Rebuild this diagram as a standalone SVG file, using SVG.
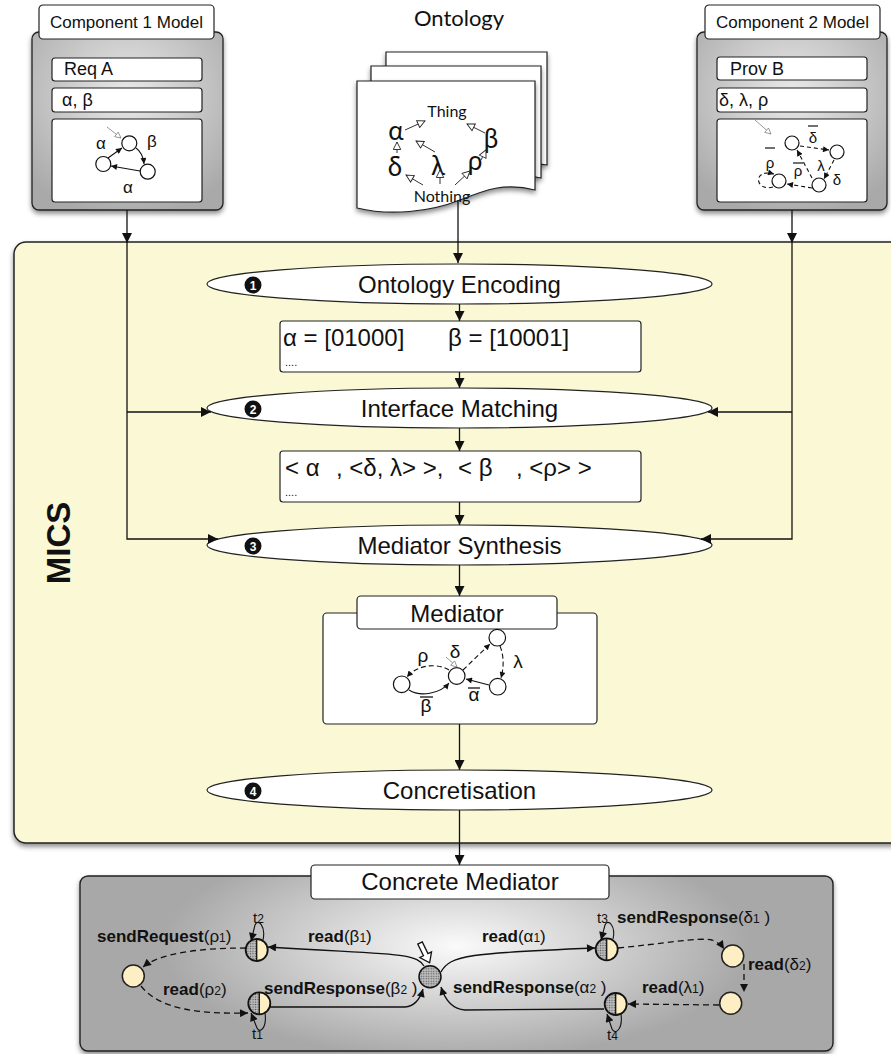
<svg xmlns="http://www.w3.org/2000/svg" width="891" height="1054" viewBox="0 0 891 1054">
<style>
text{font-family:"Liberation Sans",Arial,sans-serif;fill:#111}
.ln{fill:none;stroke:#111;stroke-width:1.3}
.thin{fill:none;stroke:#111;stroke-width:1.1}
.box{fill:#fff;stroke:#222;stroke-width:1.2}
.big{font-size:24px}
.ttl{font-size:17px}
.ont{font-family:Lato,"Open Sans",sans-serif}
.lab{font-size:17px}
.b{font-weight:bold}
.sub{font-size:12px}
.dash{stroke-dasharray:6 4}
.yel{fill:#fdefc3;stroke:#222;stroke-width:1.5}
.hl{fill:none;stroke:#333;stroke-width:1}
.init{fill:none;stroke:#999;stroke-width:1}
.nd{fill:#fff;stroke:#111;stroke-width:1.2}
.badge{fill:#111}
.bn{font-size:12px;font-weight:bold;fill:#fff;text-anchor:middle}
.mid{text-anchor:middle}
</style>
<defs>
<filter id="sh" x="-10%" y="-10%" width="120%" height="130%">
<feDropShadow dx="0" dy="3" stdDeviation="2.5" flood-color="#000" flood-opacity="0.45"/>
</filter>
<radialGradient id="gcomp" cx="50%" cy="35%" r="70%">
<stop offset="0" stop-color="#e9e9e9"/>
<stop offset="1" stop-color="#a9a9a9"/>
</radialGradient>
<radialGradient id="gconc" cx="50%" cy="40%" r="65%" gradientTransform="translate(0.5 0.4) scale(0.6 1) translate(-0.5 -0.4)">
<stop offset="0" stop-color="#fafafa"/>
<stop offset="1" stop-color="#a8a8a8"/>
</radialGradient>
<pattern id="stip" width="2.5" height="2.5" patternUnits="userSpaceOnUse">
<rect width="2.5" height="2.5" fill="#bdbdbd"/>
<circle cx="1.25" cy="1.25" r="0.7" fill="#555"/>
</pattern>
<marker id="ah" viewBox="0 0 10 10" refX="10" refY="5" markerWidth="12" markerHeight="10" markerUnits="userSpaceOnUse" orient="auto">
<path d="M0,0 L10,5 L0,10 z" fill="#111"/>
</marker>
<marker id="as" viewBox="0 0 10 10" refX="10" refY="5" markerWidth="10" markerHeight="8" markerUnits="userSpaceOnUse" orient="auto">
<path d="M0,0 L10,5 L0,10 z" fill="#111"/>
</marker>
<marker id="at" viewBox="0 0 10 10" refX="10" refY="5" markerWidth="7" markerHeight="6" markerUnits="userSpaceOnUse" orient="auto">
<path d="M0,0 L10,5 L0,10 z" fill="#111"/>
</marker>
<marker id="ho" viewBox="0 0 12 12" refX="11" refY="6" markerWidth="10" markerHeight="9" markerUnits="userSpaceOnUse" orient="auto">
<path d="M1,1 L11,6 L1,11 z" fill="#fff" stroke="#222" stroke-width="1.2"/>
</marker>
<marker id="hg" viewBox="0 0 12 12" refX="11" refY="6" markerWidth="8" markerHeight="7" markerUnits="userSpaceOnUse" orient="auto">
<path d="M1,1 L11,6 L1,11 z" fill="#fff" stroke="#777" stroke-width="1.2"/>
</marker>
<g id="half">
<path d="M0,-11 A11,11 0 0 0 0,11 Z" fill="url(#stip)"/>
<path d="M0,-11 A11,11 0 0 1 0,11 Z" fill="#fdefc3"/>
<line x1="0" y1="-11" x2="0" y2="11" stroke="#111" stroke-width="1.3"/>
<circle r="11" fill="none" stroke="#111" stroke-width="1.8"/>
</g>
</defs>

<!-- MICS container -->
<g id="mics">
<rect x="14" y="242" width="900" height="601" rx="12" fill="#faf8d5" stroke="#222" stroke-width="1.5" filter="url(#sh)"/>
<text transform="translate(70,543) rotate(-90)" class="b mid" font-size="33">MICS</text>
</g>

<!-- Component 1 -->
<g id="comp1">
<rect x="32" y="32" width="191" height="178" rx="7" fill="url(#gcomp)" stroke="#222" stroke-width="1.3" filter="url(#sh)"/>
<rect x="39" y="5" width="175" height="34" rx="4" class="box"/>
<text x="126.5" y="28" class="ttl mid">Component 1 Model</text>
<rect x="52" y="58" width="150" height="23" rx="3" class="box"/>
<text x="64" y="75" font-size="18">Req A</text>
<rect x="52" y="88" width="150" height="24" rx="3" class="box"/>
<text x="62" y="106" font-size="18">α, β</text>
<rect x="52" y="119" width="150" height="83" rx="3" class="box"/>
<circle cx="129.3" cy="143.3" r="7.5" class="nd"/>
<circle cx="103.3" cy="164" r="7.5" class="nd"/>
<circle cx="147.7" cy="171.7" r="7.5" class="nd"/>
<path d="M107,127 L121,138" class="init" marker-end="url(#hg)"/>
<path d="M108,158 L122,148" class="thin" marker-end="url(#at)"/>
<path d="M136,148 Q143,153 144,164" class="thin" marker-end="url(#at)"/>
<path d="M140,171 L111,166" class="thin" marker-end="url(#at)"/>
<text x="101" y="149" font-size="17" class="mid">α</text>
<text x="152" y="147" font-size="17" class="mid">β</text>
<text x="128" y="193" font-size="17" class="mid">α</text>
</g>

<!-- Ontology -->
<g id="ontology">
<text x="459" y="26" class="ont mid" font-size="22">Ontology</text>
<path d="M386,52 H547 V165 C520,160 500,168 480,175 C450,185 420,188 386,182 Z" fill="#fff" stroke="#222" stroke-width="1.2" filter="url(#sh)"/>
<path d="M371,66 H541 V178 C515,172 495,180 472,188 C442,198 405,202 371,196 Z" fill="#fff" stroke="#222" stroke-width="1.2" filter="url(#sh)"/>
<path d="M357,81 H535 V190 C505,182 485,190 460,200 C430,212 390,216 357,208 Z" fill="#fff" stroke="#222" stroke-width="1.2" filter="url(#sh)"/>
<text x="447" y="117" class="ont mid" font-size="16">Thing</text>
<text x="442" y="202" class="ont mid" font-size="16">Nothing</text>
<text x="396" y="140" class="ont mid" font-size="26">α</text>
<text x="395" y="176" class="ont mid" font-size="26">δ</text>
<text x="438" y="175" class="ont mid" font-size="26">λ</text>
<text x="491" y="148" class="ont mid" font-size="26">β</text>
<text x="475" y="170" class="ont mid" font-size="26">ρ</text>
<path d="M405,130 L425,121" class="hl" marker-end="url(#ho)"/>
<path d="M485,133 L467,124" class="hl" marker-end="url(#ho)"/>
<path d="M397,153 L397,142" class="hl" marker-end="url(#ho)"/>
<path d="M435,152 L416,141" class="hl" marker-end="url(#ho)"/>
<path d="M423,185 L406,175" class="hl" marker-end="url(#ho)"/>
<path d="M440,184 L440,170" class="hl" marker-end="url(#ho)"/>
<path d="M455,185 L470,171" class="hl" marker-end="url(#ho)"/>
<path d="M481,160 L486,150" class="hl" marker-end="url(#ho)"/>
</g>

<!-- Component 2 -->
<g id="comp2">
<rect x="697" y="32" width="190" height="178" rx="7" fill="url(#gcomp)" stroke="#222" stroke-width="1.3" filter="url(#sh)"/>
<rect x="705" y="5" width="175" height="34" rx="4" class="box"/>
<text x="792.5" y="28" class="ttl mid">Component 2 Model</text>
<rect x="717" y="57" width="150" height="23" rx="3" class="box"/>
<text x="730" y="75" font-size="18">Prov B</text>
<rect x="717" y="88" width="150" height="24" rx="3" class="box"/>
<text x="719" y="106" font-size="18">δ, λ, ρ</text>
<rect x="717" y="119" width="150" height="83" rx="3" class="box"/>
<circle cx="792" cy="143" r="7" class="nd"/>
<circle cx="837" cy="152" r="7" class="nd"/>
<circle cx="779" cy="181" r="7" class="nd"/>
<circle cx="819" cy="185" r="7" class="nd"/>
<path d="M755,120 L771,134" class="init" marker-end="url(#hg)"/>
<path d="M800,146 L829,150" class="thin" stroke-dasharray="4 3" marker-end="url(#at)"/>
<path d="M834,160 L824,179" class="thin" stroke-dasharray="4 3" marker-end="url(#at)"/>
<path d="M812,178 L797,150" class="thin" stroke-dasharray="4 3" marker-end="url(#at)"/>
<path d="M812,188 L787,184" class="thin" stroke-dasharray="4 3" marker-end="url(#at)"/>
<path d="M773,187 C755,192 752,168 774,174" class="thin" stroke-dasharray="4 3" marker-end="url(#at)"/>
<text x="813" y="143" font-size="15" class="mid">δ</text>
<line x1="808" y1="126" x2="818" y2="126" stroke="#111" stroke-width="1.2"/>
<text x="770" y="168" font-size="15" class="mid">ρ</text>
<line x1="765" y1="148" x2="775" y2="148" stroke="#111" stroke-width="1.2"/>
<text x="798" y="176" font-size="15" class="mid">ρ</text>
<line x1="793" y1="163" x2="803" y2="163" stroke="#111" stroke-width="1.2"/>
<text x="821" y="171" font-size="15" class="mid">λ</text>
<text x="837" y="185" font-size="15" class="mid">δ</text>
</g>

<!-- Process steps -->
<g id="step1">
<ellipse cx="459.5" cy="284" rx="252.5" ry="20" class="box"/>
<circle cx="253" cy="285" r="8.5" class="badge"/>
<text x="253" y="289.5" class="bn">1</text>
<text x="459.5" y="292.5" class="big mid">Ontology Encoding</text>
</g>
<g id="encoding">
<rect x="280" y="321" width="361" height="51" rx="3" class="box"/>
<text x="283" y="346" class="big">α = [01000]</text>
<text x="448" y="346" class="big">β = [10001]</text>
<text x="285" y="366" font-size="11">....</text>
</g>
<g id="step2">
<ellipse cx="459.5" cy="408" rx="252.5" ry="20" class="box"/>
<circle cx="253" cy="409" r="8.5" class="badge"/>
<text x="253" y="413.5" class="bn">2</text>
<text x="459.5" y="416.5" class="big mid">Interface Matching</text>
</g>
<g id="matching">
<rect x="280" y="451" width="361" height="51" rx="3" class="box"/>
<text x="285" y="476" class="big">&lt; α</text>
<text x="336" y="476" class="big">, &lt;δ, λ&gt; &gt;,</text>
<text x="458" y="476" class="big">&lt; β</text>
<text x="516" y="476" class="big">, &lt;ρ&gt; &gt;</text>
<text x="285" y="496" font-size="11">....</text>
</g>
<g id="step3">
<ellipse cx="459.5" cy="545" rx="252.5" ry="20" class="box"/>
<circle cx="253" cy="546" r="8.5" class="badge"/>
<text x="253" y="550.5" class="bn">3</text>
<text x="459.5" y="553.5" class="big mid">Mediator Synthesis</text>
</g>
<g id="mediator">
<rect x="323" y="613" width="274" height="111" rx="4" class="box"/>
<rect x="357" y="596" width="200" height="33" rx="4" class="box"/>
<text x="457" y="622" class="big mid">Mediator</text>
<circle cx="401.7" cy="684.3" r="8.3" class="nd"/>
<circle cx="456.7" cy="676" r="8.3" class="nd"/>
<circle cx="497.3" cy="637.7" r="8.3" class="nd"/>
<circle cx="497.7" cy="686.7" r="8.3" class="nd"/>
<path d="M446,657 L457,667" class="init" marker-end="url(#hg)"/>
<path d="M449,670 C438,663 418,664 407,677" class="thin" stroke-dasharray="5 3" marker-end="url(#at)"/>
<path d="M409,690 C420,697 440,694 449,683" class="thin" marker-end="url(#at)"/>
<path d="M463,670 L490,644" class="thin" stroke-dasharray="5 3" marker-end="url(#at)"/>
<path d="M500,646 C504,656 504,667 501,678" class="thin" stroke-dasharray="5 3" marker-end="url(#at)"/>
<path d="M489,685 L466,679" class="thin" marker-end="url(#at)"/>
<text x="423" y="662" font-size="19" class="mid">ρ</text>
<text x="455" y="658" font-size="19" class="mid">δ</text>
<text x="518" y="668" font-size="19" class="mid">λ</text>
<text x="474" y="701" font-size="19" class="mid">α</text>
<line x1="468" y1="688" x2="480" y2="688" stroke="#111" stroke-width="1.3"/>
<text x="426" y="712" font-size="19" class="mid">β</text>
<line x1="420" y1="697" x2="433" y2="697" stroke="#111" stroke-width="1.3"/>
</g>
<g id="step4">
<ellipse cx="459.5" cy="790" rx="252.5" ry="20" class="box"/>
<circle cx="253" cy="791" r="8.5" class="badge"/>
<text x="253" y="795.5" class="bn">4</text>
<text x="459.5" y="798.5" class="big mid">Concretisation</text>
</g>

<!-- Concrete Mediator -->
<g id="concrete">
<rect x="80" y="876" width="753" height="175" rx="8" fill="url(#gconc)" stroke="#222" stroke-width="1.4" filter="url(#sh)"/>
<rect x="311" y="865" width="298" height="34" rx="4" class="box"/>
<text x="460" y="890" class="big mid">Concrete Mediator</text>
</g>
<g id="c-center"><circle cx="430" cy="976.7" r="11" fill="url(#stip)" stroke="#111" stroke-width="1.5"/></g>
<g id="c-t2"><use href="#half" x="256.7" y="950"/></g>
<g id="c-t1"><use href="#half" x="259.3" y="1003.3"/></g>
<g id="c-t3"><use href="#half" x="606.7" y="949.3"/></g>
<g id="c-t4"><use href="#half" x="615.7" y="1004"/></g>
<g id="c-left"><circle cx="133.3" cy="976" r="11" class="yel"/></g>
<g id="c-tr"><circle cx="732.7" cy="956" r="11" class="yel"/></g>
<g id="c-br"><circle cx="730.7" cy="1003.3" r="11" class="yel"/></g>

<!-- Connectors -->
<g id="connectors">
<path d="M458,200 V263" class="ln" marker-end="url(#ah)"/>
<path d="M459.5,304 V321" class="ln" marker-end="url(#ah)"/>
<path d="M459.5,372 V388" class="ln" marker-end="url(#ah)"/>
<path d="M459.5,428 V451" class="ln" marker-end="url(#ah)"/>
<path d="M459.5,502 V525" class="ln" marker-end="url(#ah)"/>
<path d="M459.5,565 V596" class="ln" marker-end="url(#ah)"/>
<path d="M459.5,724 V770" class="ln" marker-end="url(#ah)"/>
<path d="M459.5,810 V865" class="ln" marker-end="url(#ah)"/>
<path d="M127,210 V243" class="ln" marker-end="url(#ah)"/>
<path d="M127,243 V539 H218" class="ln" marker-end="url(#ah)"/>
<path d="M127,412 H211" class="ln" marker-end="url(#ah)"/>
<path d="M792,210 V243" class="ln" marker-end="url(#ah)"/>
<path d="M792,243 V539 H701" class="ln" marker-end="url(#ah)"/>
<path d="M792,412 H708" class="ln" marker-end="url(#ah)"/>

<!-- concrete mediator transitions -->
<path d="M424,966 C415,952 395,955 268,947" class="ln" marker-end="url(#as)"/>
<path d="M246,948 C200,948 160,953 143,967" class="ln dash" marker-end="url(#as)"/>
<path d="M141,986 C160,1010 200,1014 248,1013" class="ln dash" marker-end="url(#as)"/>
<path d="M270,1007 L405,1007 Q418,1006 423,989" class="ln" marker-end="url(#as)"/>
<path d="M441,972 C450,955 470,953 595,948" class="ln" marker-end="url(#as)"/>
<path d="M618,948 C660,944 700,937 712,940 Q720,943 724,949" class="ln dash" marker-end="url(#as)"/>
<path d="M744,964 V992" class="ln dash" marker-end="url(#as)"/>
<path d="M719,1005 L628,1004" class="ln dash" marker-end="url(#as)"/>
<path d="M604,1009 L465,1010 Q448,1009 441,987" class="ln" marker-end="url(#as)"/>
<path d="M263,940 C266,926 258,918 255,925 L251,941" class="thin" marker-end="url(#as)"/>
<path d="M265,1013 C267,1028 260,1034 257,1028 L251,1013" class="thin" marker-end="url(#as)"/>
<path d="M613,939 C616,926 608,918 605,925 L601,940" class="thin" marker-end="url(#as)"/>
<path d="M621,1014 C623,1030 615,1035 612,1029 L607,1014" class="thin" marker-end="url(#as)"/>
<polygon points="0,-2.5 13,-2.5 13,-6.5 22,0 13,6.5 13,2.5 0,2.5" transform="translate(420,943) rotate(64)" fill="#fff" stroke="#111" stroke-width="1.3"/>
</g>

<!-- concrete labels -->
<g id="c-labels" class="lab">
<text x="97" y="942"><tspan class="b">sendRequest</tspan>(ρ<tspan class="sub">1</tspan>)</text>
<text x="253" y="923" font-size="15">t<tspan class="sub">2</tspan></text>
<text x="308" y="942"><tspan class="b">read</tspan>(β<tspan class="sub">1</tspan>)</text>
<text x="163" y="995"><tspan class="b">read</tspan>(ρ<tspan class="sub">2</tspan>)</text>
<text x="264" y="994"><tspan class="b">sendResponse</tspan>(β<tspan class="sub">2</tspan> )</text>
<text x="252" y="1039" font-size="15">t<tspan class="sub">1</tspan></text>
<text x="482" y="942"><tspan class="b">read</tspan>(α<tspan class="sub">1</tspan>)</text>
<text x="597" y="923" font-size="15">t<tspan class="sub">3</tspan></text>
<text x="617" y="923"><tspan class="b">sendResponse</tspan>(δ<tspan class="sub">1</tspan> )</text>
<text x="748" y="970"><tspan class="b">read</tspan>(δ<tspan class="sub">2</tspan>)</text>
<text x="642" y="993"><tspan class="b">read</tspan>(λ<tspan class="sub">1</tspan>)</text>
<text x="453" y="993"><tspan class="b">sendResponse</tspan>(α<tspan class="sub">2</tspan> )</text>
<text x="607" y="1040" font-size="15">t<tspan class="sub">4</tspan></text>
</g>
</svg>
